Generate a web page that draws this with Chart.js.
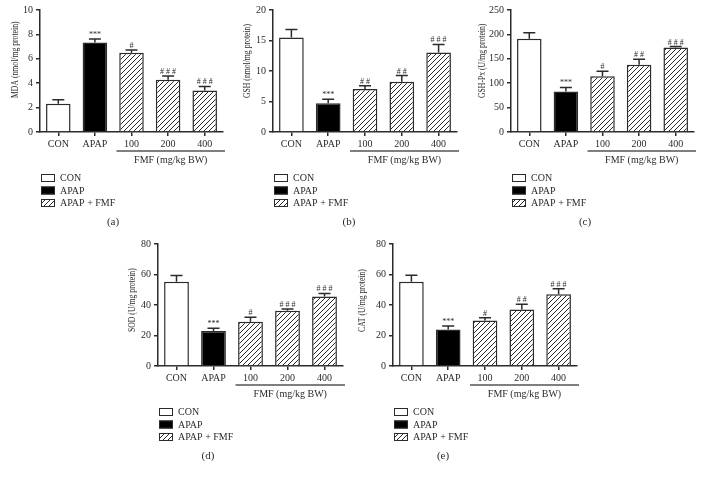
<!DOCTYPE html>
<html>
<head>
<meta charset="utf-8">
<script src="https://cdn.jsdelivr.net/npm/chart.js@4.4.0/dist/chart.umd.min.js"></script>
<style>
  html, body { margin: 0; padding: 0; background: #fff; }
  #wrap { position: relative; width: 703px; height: 480px; overflow: hidden; }
  #wrap canvas { position: absolute; }
</style>
</head>
<body>
<div id="wrap">
  <canvas id="cA" width="235" height="235" style="left:0;top:0"></canvas>
  <canvas id="cB" width="235" height="235" style="left:235px;top:0"></canvas>
  <canvas id="cC" width="233" height="235" style="left:470px;top:0"></canvas>
  <canvas id="cD" width="235" height="245" style="left:118px;top:235px"></canvas>
  <canvas id="cE" width="235" height="245" style="left:352px;top:235px"></canvas>
</div>
<script>
(function () {
  'use strict';

  var CATEGORIES = ['CON', 'APAP', '100', '200', '400'];
  var DOSE_LABEL = 'FMF (mg/kg BW)';
  var LEGEND_LABELS = ['CON', 'APAP', 'APAP + FMF'];

  var MDA_MEAN = [2.32, 7.33, 6.5, 4.28, 3.41];
  var MDA_ERR = [0.32, 0.3, 0.22, 0.3, 0.32];
  var MDA_SIG = ['', '***', '#', '# # #', '# # #'];

  var GSH_MEAN = [15.5, 4.7, 7.05, 8.25, 13.05];
  var GSH_ERR = [1.3, 0.65, 0.55, 1.0, 1.3];
  var GSH_SIG = ['', '***', '# #', '# #', '# # #'];

  var GPX_MEAN = [191, 83, 114, 138, 173];
  var GPX_ERR = [12.5, 8.2, 10.3, 11, 2];
  var GPX_SIG = ['', '***', '#', '# #', '# # #'];

  var SOD_MEAN = [55.2, 22.9, 29, 36.2, 45.6];
  var SOD_ERR = [4.2, 1.9, 2.9, 1.1, 2.0];
  var SOD_SIG = ['', '***', '#', '# # #', '# # #'];

  var CAT_MEAN = [55.3, 23.9, 29.9, 37, 47];
  var CAT_ERR = [4.2, 2.4, 1.8, 3.5, 3.7];
  var CAT_SIG = ['', '***', '#', '# #', '# # #'];

  var INK = '#2b2b2b';
  var SERIF = "'Liberation Serif', 'DejaVu Serif', serif";

  /* diagonal hatch used for the FMF groups */
  function makeHatch() {
    var p = document.createElement('canvas');
    p.width = 5; p.height = 5;
    var c = p.getContext('2d');
    c.fillStyle = '#fff';
    c.fillRect(0, 0, 5, 5);
    c.strokeStyle = INK;
    c.lineWidth = 1;
    c.beginPath();
    c.moveTo(-1, 6); c.lineTo(6, -1);
    c.moveTo(-1, 1); c.lineTo(1, -1);
    c.moveTo(4, 6); c.lineTo(6, 4);
    c.stroke();
    return p;
  }
  var hatchSrc = makeHatch();

  var extrasPlugin = {
    id: 'extras',
    afterDatasetsDraw: function (chart) {
      var o = chart.options.plugins.extras;
      var ctx = chart.ctx;
      var meta = chart.getDatasetMeta(0);
      var y = chart.scales.y;
      ctx.save();
      ctx.strokeStyle = INK;
      ctx.lineWidth = 1.5;
      meta.data.forEach(function (bar, i) {
        var top = y.getPixelForValue(o.mean[i]);
        var cap = y.getPixelForValue(o.mean[i] + o.err[i]);
        ctx.beginPath();
        ctx.moveTo(bar.x, top);
        ctx.lineTo(bar.x, cap);
        ctx.moveTo(bar.x - 6, cap);
        ctx.lineTo(bar.x + 6, cap);
        ctx.stroke();
        if (o.sig[i]) {
          ctx.fillStyle = INK;
          ctx.font = '8px ' + SERIF;
          ctx.textAlign = 'center';
          ctx.textBaseline = 'alphabetic';
          ctx.fillText(o.sig[i], bar.x, cap - 2);
        }
      });
      ctx.restore();
    },
    afterDraw: function (chart) {
      var o = chart.options.plugins.extras;
      var ctx = chart.ctx;
      var a = chart.chartArea;
      var x = chart.scales.x;
      ctx.save();
      ctx.fillStyle = INK;
      // y title, condensed like the original
      ctx.font = '11px ' + SERIF;
      ctx.translate(o.titleX, a.bottom - 34);
      ctx.rotate(-Math.PI / 2);
      ctx.scale(0.7, 1);
      ctx.textAlign = 'left';
      ctx.textBaseline = 'middle';
      ctx.fillText(o.title, 0, 0);
      ctx.setTransform(1, 0, 0, 1, 0, 0);

      // dose bracket
      ctx.font = '10px ' + SERIF;
      var x0 = x.getPixelForValue(2) - 15;
      var x1 = a.right + 2;
      ctx.strokeStyle = '#555';
      ctx.lineWidth = 1.5;
      ctx.beginPath();
      ctx.moveTo(x0, a.bottom + 19);
      ctx.lineTo(x1, a.bottom + 19);
      ctx.stroke();
      ctx.textAlign = 'center';
      ctx.textBaseline = 'middle';
      ctx.fillText(DOSE_LABEL, (x0 + x1) / 2, a.bottom + 28);

      // legend
      var bx = a.left + 1;
      var rows = [46, 58.5, 71];
      ctx.lineWidth = 1;
      ctx.strokeStyle = INK;
      ctx.textAlign = 'left';
      rows.forEach(function (dy, i) {
        var ry = a.bottom + dy;
        if (i === 0) ctx.fillStyle = '#fff';
        else if (i === 1) ctx.fillStyle = '#000';
        else ctx.fillStyle = ctx.createPattern(hatchSrc, 'repeat');
        ctx.fillRect(bx, ry - 4, 14, 8);
        ctx.strokeRect(bx + 0.5, ry - 3.5, 13, 7);
        ctx.fillStyle = INK;
        ctx.fillText(LEGEND_LABELS[i], bx + 19, ry + 0.5);
      });

      // caption
      ctx.font = '11px ' + SERIF;
      ctx.textAlign = 'center';
      ctx.fillText(o.caption, o.captionX, a.bottom + 90);
      ctx.restore();
    }
  };

  function makePanel(id, p) {
    var canvas = document.getElementById(id);
    var ctx = canvas.getContext('2d');
    var hatch = ctx.createPattern(hatchSrc, 'repeat');
    var W = canvas.width, H = canvas.height;
    return new Chart(ctx, {
      type: 'bar',
      data: {
        labels: CATEGORIES,
        datasets: [{
          data: p.mean,
          backgroundColor: ['#fff', '#000', hatch, hatch, hatch],
          borderColor: INK,
          borderWidth: 1.5,
          categoryPercentage: 1,
          barPercentage: 0.67
        }]
      },
      options: {
        responsive: false,
        animation: false,
        devicePixelRatio: 1,
        layout: { padding: { left: 0, top: p.top, right: W - p.right, bottom: 0 } },
        plugins: {
          legend: { display: false },
          tooltip: { enabled: false },
          extras: {
            mean: p.mean, err: p.err, sig: p.sig, title: p.title,
            titleX: p.titleX, caption: p.caption, captionX: p.captionX
          }
        },
        scales: {
          x: {
            afterFit: function (s) { s.height = H - p.bottom; },
            grid: { display: true, offset: false, drawOnChartArea: false, tickLength: 4, color: INK, lineWidth: 1.5 },
            border: { display: true, color: INK, width: 1.5 },
            ticks: { color: INK, padding: 2, font: { family: SERIF, size: 10 } }
          },
          y: {
            min: 0,
            max: p.max,
            afterFit: function (s) { s.width = p.left; },
            grid: { display: true, drawOnChartArea: false, tickLength: 4, color: INK, lineWidth: 1.5 },
            border: { display: true, color: INK, width: 1.5 },
            ticks: { stepSize: p.step, color: INK, padding: 3, font: { family: SERIF, size: 10 } }
          }
        }
      },
      plugins: [extrasPlugin]
    });
  }

  makePanel('cA', { mean: MDA_MEAN, err: MDA_ERR, sig: MDA_SIG, max: 10, step: 2,
    title: 'MDA (nmol/mg protein)', titleX: 15, caption: '(a)', captionX: 113,
    left: 40, right: 223, top: 10, bottom: 132 });
  makePanel('cB', { mean: GSH_MEAN, err: GSH_ERR, sig: GSH_SIG, max: 20, step: 5,
    title: 'GSH (nmol/mg protein)', titleX: 12, caption: '(b)', captionX: 114,
    left: 38, right: 222, top: 10, bottom: 132 });
  makePanel('cC', { mean: GPX_MEAN, err: GPX_ERR, sig: GPX_SIG, max: 250, step: 50,
    title: 'GSH-Px (U/mg protein)', titleX: 12, caption: '(c)', captionX: 115,
    left: 41, right: 224, top: 10, bottom: 132 });
  makePanel('cD', { mean: SOD_MEAN, err: SOD_ERR, sig: SOD_SIG, max: 80, step: 20,
    title: 'SOD (U/mg protein)', titleX: 14, caption: '(d)', captionX: 90,
    left: 40, right: 225, top: 9, bottom: 131 });
  makePanel('cE', { mean: CAT_MEAN, err: CAT_ERR, sig: CAT_SIG, max: 80, step: 20,
    title: 'CAT (U/mg protein)', titleX: 10, caption: '(e)', captionX: 91,
    left: 41, right: 225, top: 9, bottom: 131 });
})();
</script>
</body>
</html>
